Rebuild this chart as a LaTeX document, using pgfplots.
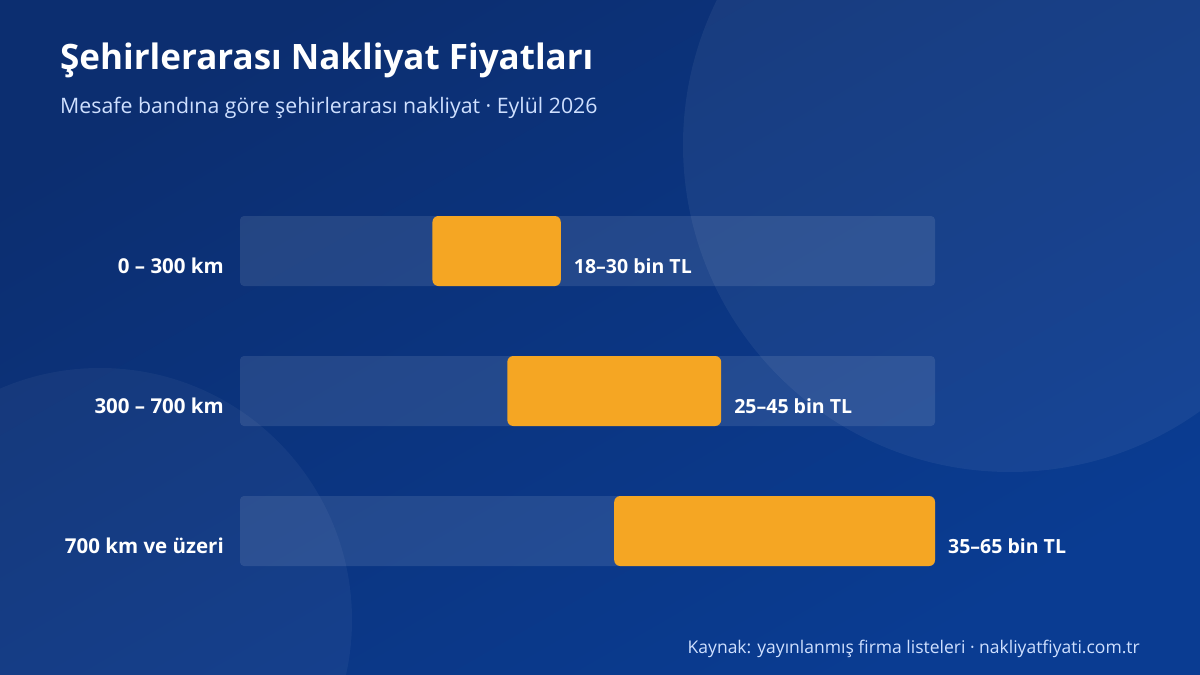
\documentclass[border=0pt]{standalone}
\usepackage{pgfplots}
\pgfplotsset{compat=1.18}
\usepackage{fontspec}
\setmainfont{Open Sans}

\definecolor{bgA}{HTML}{0C2E70}
\definecolor{bgB}{HTML}{0A3C92}
\definecolor{barorange}{HTML}{F5A623}
\definecolor{subtxt}{HTML}{CFE0FF}

\pgfplotsset{
  bandaxis/.style={
    at={(240pt,74pt)}, anchor=south west,
    scale only axis, width=695pt, height=420pt,
    xmin=0, xmax=65, ymin=-0.5, ymax=2.5,
    y dir=reverse,
    axis line style={draw=none},
    major tick length=0pt,
    xtick=\empty, ytick=\empty,
    clip=false,
  }
}

\begin{document}
\begin{tikzpicture}[x=1pt,y=1pt]
\useasboundingbox (0,0) rectangle (1200,675);
\begin{scope}
  \clip (0,0) rectangle (1200,675);
  \shade[shading=axis, top color=bgA, bottom color=bgB, shading angle=30] (0,0) rectangle (1200,675);
  \fill[white, opacity=0.055] (1010,530) circle (327);
  \fill[white, opacity=0.045] (100,55) circle (252);
\end{scope}

\node[anchor=base west, inner sep=0, text=white, font=\bfseries\fontsize{35}{40}\selectfont] at (60,605) {Şehirlerarası Nakliyat Fiyatları};
\node[anchor=base west, inner sep=0, text=subtxt, font=\fontsize{21.3}{25}\selectfont] at (60,561) {Mesafe bandına göre şehirlerarası nakliyat · Eylül 2026};
\node[anchor=base east, inner sep=0, text=subtxt, font=\fontsize{17.5}{21}\selectfont] at (1140,21) {Kaynak: yayınlanmış firma listeleri · nakliyatfiyati.com.tr};

% gray tracks with category labels, value labels at the upper ends
\begin{axis}[bandaxis,
  ytick={0,1,2},
  yticklabels={0 – 300 km, 300 – 700 km, 700 km ve üzeri},
  yticklabel style={anchor=base east, inner sep=0pt, xshift=-16pt, yshift=-22pt,
    text=white, font=\bfseries\fontsize{20.5}{24}\selectfont},
]
  \addplot[xbar, bar width=0.5, draw=none, fill=white, fill opacity=0.1, rounded corners=4pt]
    coordinates {(65,0) (65,1) (65,2)};
  \addplot[draw=none, mark=none,
    nodes near coords, point meta=explicit symbolic,
    every node near coord/.style={anchor=base west, inner sep=0pt,
      xshift=13pt, yshift=-22pt, text=white,
      font=\bfseries\fontsize{19.5}{24}\selectfont}]
    coordinates {(30,0) [18–30 bin TL] (45,1) [25–45 bin TL] (65,2) [35–65 bin TL]};
\end{axis}

% price ranges (low end hidden, span in orange)
\begin{axis}[bandaxis,
  xbar stacked, bar width=0.5,
]
  \addplot[draw=none, fill=none] coordinates {(18,0) (25,1) (35,2)};
  \addplot[draw=none, fill=barorange, rounded corners=6pt]
    coordinates {(12,0) (20,1) (30,2)};
\end{axis}
\end{tikzpicture}
\end{document}
